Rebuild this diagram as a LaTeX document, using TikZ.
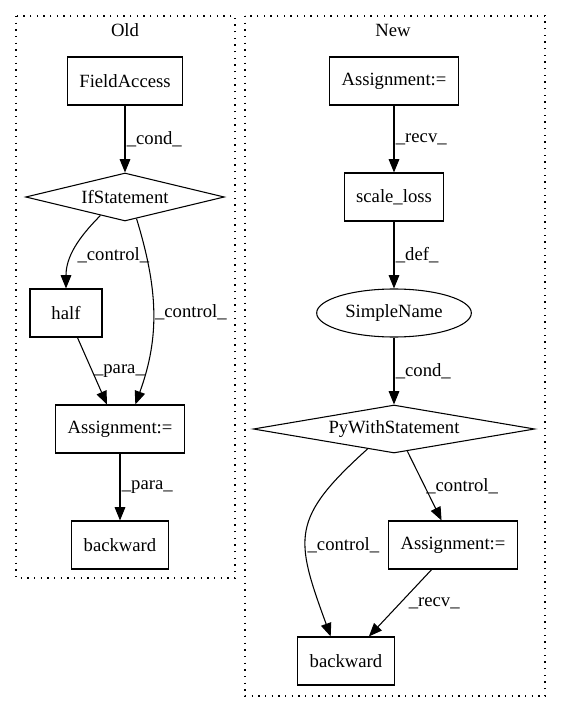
\documentclass[tikz,border=0pt]{standalone}
\usepackage{fontspec}
\setmainfont{Liberation Serif}
\usetikzlibrary{%
    arrows.meta,
    positioning,
    shapes.geometric
}
\tikzset{%
    flowarrow/.style = {-{Triangle[length=10pt,width=8pt]}, line width=.8pt},
    gvfont/.style    = {font=\fontsize{14pt}{16pt}\selectfont},
    box/.style       = {draw, rectangle, gvfont, line width=.8pt,
                        minimum height=36pt, minimum width=54pt, inner xsep=9pt},
    choice/.style    = {draw, diamond, gvfont, line width=.8pt, inner sep=0pt,
                        minimum height=36pt},
    oval/.style      = {draw, ellipse, gvfont, line width=.8pt, inner sep=0pt,
                        minimum height=36pt},
    edgelabel/.style = {gvfont, right, inner sep=1pt},
    cluster/.style   = {line width=.8pt, dash pattern=on 1pt off 4pt}
}

\begin{document}
\begin{tikzpicture}[x=.75pt, y=.75pt]
    \useasboundingbox (0,0) rectangle (560,-712);

    % clusters
    \draw[cluster] (16,-16) rectangle (235,-578);
    \draw[cluster] (245,-16) rectangle (545,-696);
    \node[gvfont] (OldTitle) at (125,-30) {Old};
    \node[gvfont] (NewTitle) at (393,-30) {New};

    % old version
    \node[box]    (FieldOld)  at (125,-81)  {FieldAccess};
    \node[choice, aspect=4, minimum width=149pt] (IfOld) at (125,-197) {IfStatement};
    \node[box]    (HalfOld)   at (66,-313)  {half};
    \node[box]    (AssignOld) at (120,-429) {Assignment:=};
    \node[box]    (BackOld)   at (120,-545) {backward};

    % new version
    \node[box]    (AssignNew)  at (394,-81)  {Assignment:=};
    \node[box]    (ScaleNew)   at (394,-197) {scale\_loss};
    \node[oval, minimum width=116pt] (NameNew) at (394,-313) {SimpleName};
    \node[choice, aspect=6, minimum width=211pt] (WithNew) at (394,-429) {PyWithStatement};
    \node[box]    (AssignNew2) at (453,-545) {Assignment:=};
    \node[box]    (BackNew)    at (346,-661) {backward};

    % straight edges
    \foreach \Source/\Target/\Label in {%
        FieldOld/IfOld/cond,
        AssignOld/BackOld/para,
        AssignNew/ScaleNew/recv,
        ScaleNew/NameNew/def,
        NameNew/WithNew/cond%
        }
        \draw[flowarrow] (\Source) to node[edgelabel] {\_\Label\_} (\Target);

    % slanted and bent edges
    \draw[flowarrow] (IfOld.217) to[out=-135, in=90]
        node[edgelabel, pos=.6, xshift=3pt] {\_control\_} (HalfOld.north);
    \draw[flowarrow] (IfOld.-62) to[out=-73, in=70]
        node[edgelabel, pos=.5] {\_control\_} (AssignOld.58);
    \draw[flowarrow] (HalfOld.-65) to
        node[edgelabel, pos=.5] {\_para\_} (AssignOld.118);
    \draw[flowarrow] (WithNew.-59) to
        node[edgelabel, pos=.5] {\_control\_} (AssignNew2.115);
    \draw[flowarrow] (WithNew.217) to[out=-138, in=110, looseness=1.4]
        node[edgelabel, pos=.58] {\_control\_} (BackNew.122);
    \draw[flowarrow] (AssignNew2.-131) to
        node[edgelabel, pos=.5, xshift=5pt] {\_recv\_} (BackNew.47);
\end{tikzpicture}
\end{document}
